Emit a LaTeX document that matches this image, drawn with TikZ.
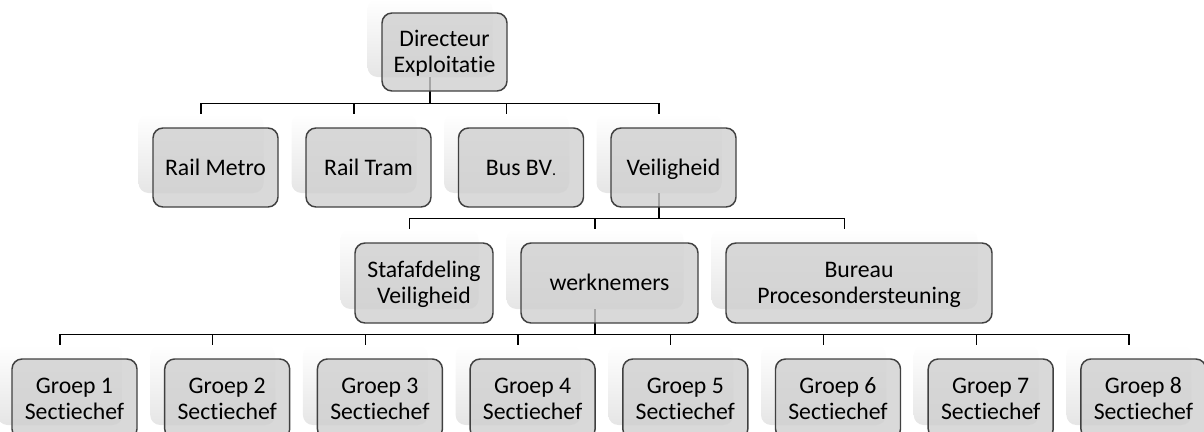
\documentclass[tikz,border=0pt]{standalone}
\usepackage{fontspec}
\setmainfont{Carlito}[Ligatures={NoCommon}]
\usetikzlibrary{calc}
\newcommand\topstrut{\rule{0pt}{16.5pt}}
\newcommand\botstrut{\rule[-5pt]{0pt}{5pt}}
\tikzset{
  box/.style={draw=black!75, line width=1.1pt, fill=gray!38, fill opacity=0.8, text opacity=1,
    rounded corners=7.5pt, align=center, inner sep=0pt,
    font=\fontsize{17.8}{19.5}\selectfont},
  shd/.style={rounded corners=7.5pt, top color=white, middle color=white, bottom color=black!10, inner sep=0pt},
  conn/.style={line width=0.95pt, black}
}
\newcommand\shadownode[5]{\node[shd, minimum width={#4*0.75pt}, minimum height={#5*0.75pt}] (s#1) at ({#2-14.5},{#3-14}) {};}
\newcommand\boxnode[6]{\node[box, minimum width={#4*0.75pt}, minimum height={#5*0.75pt}] (#1) at ({#2},{#3}) {\topstrut#6\botstrut};}
\begin{document}
\begin{tikzpicture}[x=0.75pt, y=-0.75pt]
\useasboundingbox (0,0) rectangle (1204,432);
\clip (0,0) rectangle (1204,432);
% shadows
\shadownode{Dir}{444.5}{52}{125}{78}
\shadownode{RM}{215.5}{167.5}{125}{79}
\shadownode{RT}{368.5}{167.5}{125}{79}
\shadownode{BB}{521}{167.5}{125}{79}
\shadownode{V}{673.5}{167.5}{125}{79}
\shadownode{Staf}{424}{283}{138}{80}
\shadownode{Werk}{609.5}{283}{177}{80}
\shadownode{Bur}{859}{283}{266}{80}
\foreach \k in {1,...,8}{
  \shadownode{g\k}{74.5+152.7*(\k-1)}{399}{125}{80}
}
% connectors
\foreach \c in {RM,RT,BB,V}{
  \draw[conn] (sDir.south) |- ($(s\c.north)+(0,-10)$) -- (s\c.north);
}
\foreach \c in {Staf,Werk,Bur}{
  \draw[conn] (sV.south) |- ($(s\c.north)+(0,-10)$) -- (s\c.north);
}
\foreach \k in {1,...,8}{
  \draw[conn] (sWerk.south) |- ($(sg\k.north)+(0,-10)$) -- (sg\k.north);
}
% boxes
\boxnode{Dir}{444.5}{52}{125}{78}{Directeur\\Exploitatie}
\boxnode{RM}{215.5}{167.5}{125}{79}{Rail Metro}
\boxnode{RT}{368.5}{167.5}{125}{79}{Rail Tram}
\boxnode{BB}{521}{167.5}{125}{79}{Bus BV{\fontsize{12}{14}\selectfont.}}
\boxnode{V}{673.5}{167.5}{125}{79}{Veiligheid}
\boxnode{Staf}{424}{283}{138}{80}{Stafafdeling\\Veiligheid}
\boxnode{Werk}{609.5}{283}{177}{80}{werknemers}
\boxnode{Bur}{859}{283}{266}{80}{Bureau\\Procesondersteuning}
\foreach \k in {1,...,8}{
  \boxnode{g\k}{74.5+152.7*(\k-1)}{399}{125}{80}{Groep \k\\Sectiechef}
}
\end{tikzpicture}
\end{document}
